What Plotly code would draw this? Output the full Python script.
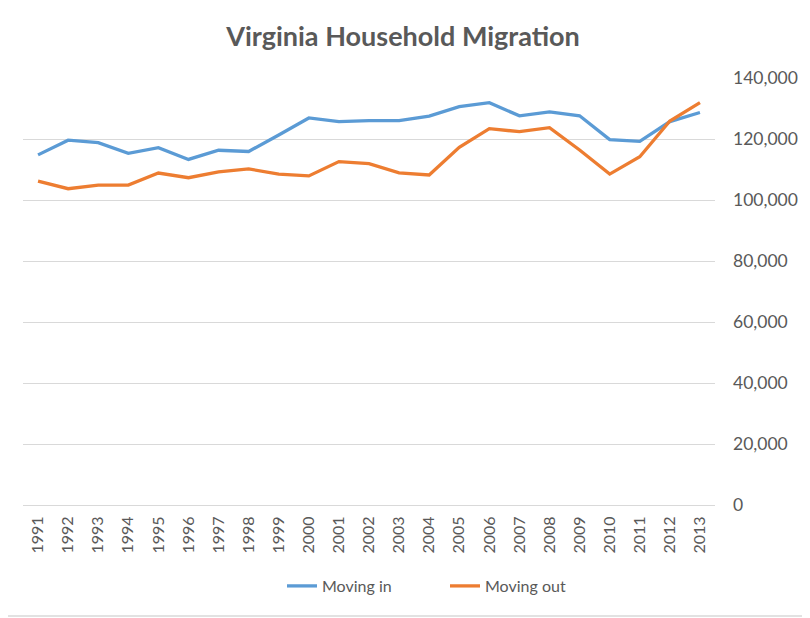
import plotly.graph_objects as go

years = [str(y) for y in range(1991, 2014)]
moving_in = [114800, 119600, 118800, 115300, 117150, 113300, 116300, 115900, 121300, 126900,
             125700, 126000, 126000, 127500, 130600, 131900, 127600, 128900, 127600, 119800,
             119200, 125700, 128700]
moving_out = [106200, 103700, 104900, 104900, 108850, 107300, 109200, 110200, 108500, 107900,
              112600, 111900, 108900, 108200, 117300, 123400, 122400, 123700, 116400, 108500,
              114200, 125900, 131900]
y_ticks = [0, 20000, 40000, 60000, 80000, 100000, 120000, 140000]

# page body has an 8px default margin, so the figure is 802x610 placed at (8, 8)
W, H = 802, 610
L, R, T, B = 15, 95, 70, 113
PW, PH = W - L - R, H - T - B

fig = go.Figure()
fig.add_trace(go.Scatter(x=years, y=moving_in, mode="lines", name="Moving in",
                         line=dict(color="#5B9BD5", width=3.3)))
fig.add_trace(go.Scatter(x=years, y=moving_out, mode="lines", name="Moving out",
                         line=dict(color="#ED7D31", width=3.3)))

fig.update_layout(
    width=W, height=H,
    paper_bgcolor="white", plot_bgcolor="white",
    font=dict(family="Lato, Carlito, sans-serif", color="#595959", size=15),
    title=dict(text="<b>Virginia Household Migration</b>", x=(403 - 8) / W, xanchor="center",
               y=1 - 29 / H, yanchor="middle", yref="container",
               font=dict(size=27, color="#595959", family="Lato, sans-serif")),
    margin=dict(l=L, r=R, t=T, b=B, autoexpand=False),
    legend=dict(orientation="h", x=(282 - 8 - L) / PW, xanchor="left", y=-81 / PH,
                yanchor="middle", entrywidth=118, entrywidthmode="pixels",
                font=dict(size=16, color="#595959")),
    showlegend=True,
)
fig.update_xaxes(type="category", range=[-0.5, 22.5], tickangle=-90, automargin=False,
                 showgrid=False, showline=True, linecolor="#D9D9D9", linewidth=1,
                 ticks="", ticklabelstandoff=4, tickfont=dict(size=16, color="#595959"))
fig.update_yaxes(side="right", range=[0, 140000], tickvals=y_ticks, automargin=False,
                 tickformat=",", showgrid=True, gridcolor="#D9D9D9", gridwidth=1,
                 zeroline=False, showline=False, ticks="", ticklabelstandoff=17,
                 tickfont=dict(size=17.5, color="#595959"))
fig.add_shape(type="rect", xref="paper", yref="paper", x0=-(L + 30) / PW, x1=(W - 2 - L) / PW,
              y0=-(B - 2) / PH, y1=1 + (T + 30) / PH, line=dict(color="#D9D9D9", width=1.5),
              fillcolor="rgba(0,0,0,0)", layer="below")

fig.write_html("out.html")
